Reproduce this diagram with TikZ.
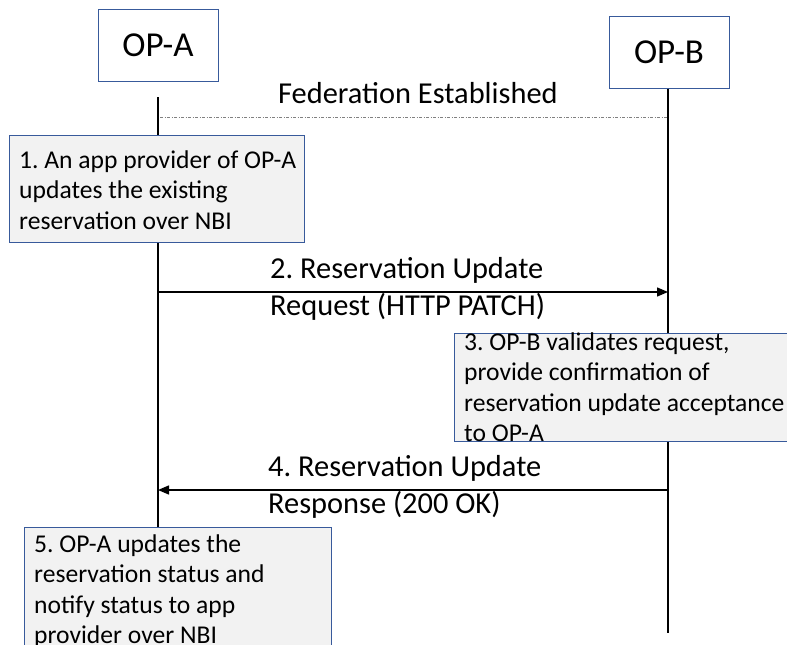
\documentclass[tikz,border=0pt]{standalone}
\usepackage{fontspec}
\setmainfont{Carlito}
\frenchspacing
\usetikzlibrary{arrows.meta}
\definecolor{bordblue}{RGB}{56,90,155}
\definecolor{notefill}{RGB}{242,242,242}
\tikzset{
  actor/.style={draw=bordblue, line width=1pt, fill=white, minimum width=120pt, minimum height=72pt, inner sep=0pt, font=\fontsize{35}{42}\selectfont},
  notebox/.style={draw=bordblue, line width=0.9pt, fill=notefill, inner sep=0pt, anchor=north west},
  notetext/.style={anchor=base west, inner sep=0pt, align=left, font=\fontsize{25.6}{30.5}\selectfont},
  msgtext/.style={anchor=base west, inner sep=0pt, align=left, font=\fontsize{30.4}{36.5}\selectfont},
  lifeline/.style={line width=1.4pt, black},
  msg/.style={line width=1.4pt, black, -{Triangle[length=11pt,width=9pt]}},
  fed/.style={line width=0.6pt, gray, dash pattern=on 3pt off 1.5pt on 1pt off 1.5pt}
}
\begin{document}
\begin{tikzpicture}[x=1pt,y=-1pt]
\useasboundingbox (0,0) rectangle (787,645);
\begin{scope}
\clip (0,0) rectangle (787,645);
% actors
\node[actor] (A) at (158,45) {OP-A};
\node[actor] (B) at (669,52) {OP-B};
% lifeline coordinates
\coordinate (aTop) at (158,97);
\coordinate (aBot) at (158,527);
\coordinate (bBot) at (668,633);
\draw[lifeline] (aTop) -- (aBot);
\draw[lifeline] (B.south -| bBot) -- (bBot);
% federation
\coordinate (fA) at (160,117);
\coordinate (fB) at (667,117);
\draw[fed] (fA) -- (fB);
\node[msgtext] (fedtext) at (278,103) {Federation Established};
% box 1
\node[notebox, minimum width=295pt, minimum height=107pt] (n1) at (9,135) {};
\node[notetext] (t1) at (19,229) {1. An app provider of OP-A\\updates the existing\\reservation over NBI};
% message 2
\coordinate (m2a) at (158,292);
\coordinate (m2b) at (668,292);
\draw[msg] (m2a) -- (m2b);
\node[msgtext] (l2) at (270,315) {2. Reservation Update\\Request (HTTP PATCH)};
% box 3
\node[notebox, minimum width=360pt, minimum height=108pt] (n3) at (454,333) {};
\node[notetext] (t3) at (464,441.5) {3. OP-B validates request,\\provide confirmation of\\reservation update acceptance\\to OP-A};
% message 4
\coordinate (m4a) at (668,490);
\coordinate (m4b) at (158,490);
\draw[msg] (m4a) -- (m4b);
\node[msgtext] (l4) at (268,513) {4. Reservation Update\\Response (200 OK)};
% box 5
\node[notebox, minimum width=307pt, minimum height=140pt] (n5) at (24,527) {};
\node[notetext] (t5) at (34,643.5) {5. OP-A updates the\\reservation status and\\notify status to app\\provider over NBI};
\end{scope}
\end{tikzpicture}
\end{document}
